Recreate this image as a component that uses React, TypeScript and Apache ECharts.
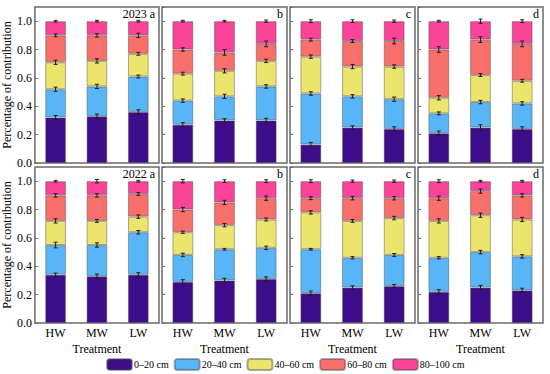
import React, { useEffect, useRef } from "react";
import * as echarts from "echarts";

const treatments = ["HW", "MW", "LW"];
const depthLayers = ["0–20 cm", "20–40 cm", "40–60 cm", "60–80 cm", "80–100 cm"];
const layerColors = ["#3d0d8c", "#58b5f7", "#ebe46d", "#f96f6c", "#fa4399"];
const years = ["2023", "2022"];
const panelLetters = ["a", "b", "c", "d"];
const yTickValues = [0, 0.2, 0.4, 0.6, 0.8, 1.0];

// share of each depth layer (rows: 0–20 … 80–100 cm; columns: HW, MW, LW)
const share2023a = [[0.32, 0.33, 0.36], [0.20, 0.21, 0.25], [0.19, 0.18, 0.16], [0.19, 0.18, 0.13], [0.10, 0.10, 0.10]];
const share2023b = [[0.27, 0.30, 0.30], [0.17, 0.17, 0.24], [0.19, 0.18, 0.18], [0.17, 0.13, 0.12], [0.20, 0.22, 0.16]];
const share2023c = [[0.13, 0.25, 0.24], [0.36, 0.22, 0.21], [0.26, 0.21, 0.23], [0.12, 0.18, 0.18], [0.13, 0.14, 0.14]];
const share2023d = [[0.21, 0.25, 0.24], [0.14, 0.18, 0.18], [0.11, 0.19, 0.16], [0.34, 0.25, 0.26], [0.20, 0.13, 0.16]];
const share2022a = [[0.34, 0.33, 0.34], [0.21, 0.22, 0.30], [0.17, 0.17, 0.11], [0.18, 0.18, 0.16], [0.10, 0.10, 0.09]];
const share2022b = [[0.29, 0.30, 0.31], [0.19, 0.22, 0.22], [0.16, 0.17, 0.20], [0.16, 0.16, 0.15], [0.20, 0.15, 0.12]];
const share2022c = [[0.21, 0.25, 0.26], [0.31, 0.21, 0.22], [0.26, 0.26, 0.26], [0.10, 0.16, 0.14], [0.12, 0.12, 0.12]];
const share2022d = [[0.22, 0.25, 0.23], [0.24, 0.25, 0.24], [0.26, 0.26, 0.26], [0.16, 0.17, 0.17], [0.12, 0.07, 0.10]];

// error (±) at the top of each layer
const err2023a = [[0.015, 0.015, 0.015], [0.015, 0.015, 0.01], [0.015, 0.015, 0.01], [0.01, 0.012, 0.015], [0.006, 0.006, 0.006]];
const err2023b = [[0.015, 0.012, 0.015], [0.012, 0.015, 0.012], [0.01, 0.015, 0.012], [0.012, 0.02, 0.02], [0.006, 0.006, 0.008]];
const err2023c = [[0.015, 0.012, 0.015], [0.012, 0.012, 0.015], [0.012, 0.015, 0.012], [0.01, 0.01, 0.02], [0.01, 0.01, 0.008]];
const err2023d = [[0.015, 0.02, 0.015], [0.01, 0.012, 0.012], [0.015, 0.01, 0.01], [0.02, 0.02, 0.02], [0.006, 0.015, 0.01]];
const err2022a = [[0.012, 0.015, 0.015], [0.02, 0.015, 0.012], [0.015, 0.01, 0.012], [0.012, 0.012, 0.01], [0.006, 0.012, 0.006]];
const err2022b = [[0.015, 0.015, 0.015], [0.012, 0.006, 0.012], [0.008, 0.012, 0.01], [0.015, 0.015, 0.015], [0.012, 0.01, 0.01]];
const err2022c = [[0.015, 0.012, 0.012], [0.006, 0.008, 0.01], [0.012, 0.01, 0.012], [0.01, 0.012, 0.012], [0.01, 0.008, 0.008]];
const err2022d = [[0.015, 0.015, 0.015], [0.008, 0.012, 0.012], [0.015, 0.015, 0.015], [0.015, 0.015, 0.012], [0.01, 0.006, 0.006]];

const panelShares = [share2023a, share2023b, share2023c, share2023d, share2022a, share2022b, share2022c, share2022d];
const panelErrors = [err2023a, err2023b, err2023c, err2023d, err2022a, err2022b, err2022c, err2022d];

const FONT = "'Liberation Serif', 'Times New Roman', serif";
const BORDER = "#6a6a6a";

export default function App() {
  const ref = useRef<HTMLDivElement>(null);

  useEffect(() => {
    if (!ref.current) return;
    const chart = echarts.init(ref.current, undefined, { renderer: "svg" });

    const colLefts = [34, 162, 290, 418];
    const panelW = 125;
    const rowTops = [7, 167];
    const panelH = 156;

    const grids: any[] = [];
    const xAxes: any[] = [];
    const yAxes: any[] = [];
    const series: any[] = [];
    const graphics: any[] = [];

    for (let p = 0; p < 8; p++) {
      const row = Math.floor(p / 4);
      const col = p % 4;
      grids.push({
        left: colLefts[col],
        top: rowTops[row],
        width: panelW,
        height: panelH,
        show: true,
        borderColor: BORDER,
        borderWidth: 1.5,
        backgroundColor: "transparent",
      });
      xAxes.push({
        type: "category",
        gridIndex: p,
        data: treatments,
        axisLine: { show: false },
        axisTick: { show: false },
        axisLabel: { show: row === 1, fontSize: 12, color: "#000", fontFamily: FONT, margin: 4 },
        name: row === 1 ? "Treatment" : "",
        nameLocation: "middle",
        nameGap: 20,
        nameTextStyle: { fontSize: 12, color: "#000", fontFamily: FONT },
      });
      yAxes.push({
        type: "value",
        gridIndex: p,
        min: 0,
        max: 1.1,
        interval: 0.2,
        splitLine: { show: false },
        axisLine: { show: false },
        axisTick: { show: true, inside: true, length: 3, lineStyle: { color: BORDER, width: 1 } },
        axisLabel: {
          show: col === 0,
          showMaxLabel: false,
          fontSize: 12,
          color: "#000",
          fontFamily: FONT,
          margin: 3,
          formatter: (v: number) => (yTickValues.some((t) => Math.abs(t - v) < 1e-6) ? v.toFixed(1) : ""),
        },
        name: col === 0 ? "Percentage of contribution" : "",
        nameLocation: "middle",
        nameGap: 17,
        nameTextStyle: { fontSize: 12, color: "#000", fontFamily: FONT },
      });

      const shares = panelShares[p];
      const errs = panelErrors[p];
      const cumulative = [0, 0, 0];
      const errData: number[][] = [];
      shares.forEach((layer, l) => {
        series.push({
          type: "bar",
          name: depthLayers[l],
          xAxisIndex: p,
          yAxisIndex: p,
          stack: "panel" + p,
          barWidth: "50%",
          data: layer,
          itemStyle: { color: layerColors[l], borderColor: "rgba(70,70,70,0.45)", borderWidth: 1 },
          emphasis: { disabled: true },
        });
        layer.forEach((v, t) => {
          cumulative[t] += v;
          errData.push([t, cumulative[t], errs[l][t]]);
        });
      });
      series.push({
        type: "custom",
        name: "err" + p,
        xAxisIndex: p,
        yAxisIndex: p,
        z: 10,
        data: errData,
        renderItem: (params: any, api: any) => {
          const x = api.value(0);
          const y = api.value(1);
          const e = api.value(2);
          const hi = api.coord([x, y + e]);
          const lo = api.coord([x, y - e]);
          const cap = 2;
          const st = { stroke: "#2a1a1a", lineWidth: 1 };
          return {
            type: "group",
            children: [
              { type: "line", shape: { x1: hi[0], y1: hi[1], x2: lo[0], y2: lo[1] }, style: st },
              { type: "line", shape: { x1: hi[0] - cap, y1: hi[1], x2: hi[0] + cap, y2: hi[1] }, style: st },
              { type: "line", shape: { x1: lo[0] - cap, y1: lo[1], x2: lo[0] + cap, y2: lo[1] }, style: st },
            ],
          };
        },
      });

      graphics.push({
        type: "text",
        right: 550 - (colLefts[col] + panelW) + 4,
        top: rowTops[row] + 1,
        style: {
          text: col === 0 ? years[row] + " " + panelLetters[col] : panelLetters[col],
          font: "12px " + FONT,
          fill: "#000",
        },
      });
    }

    chart.setOption({
      animation: false,
      backgroundColor: "#fff",
      grid: grids,
      xAxis: xAxes,
      yAxis: yAxes,
      series,
      graphic: graphics,
      legend: {
        data: depthLayers,
        top: 358,
        left: 106,
        itemWidth: 25,
        itemHeight: 11,
        itemGap: 5,
        padding: 0,
        selectedMode: false,
        textStyle: { fontSize: 10, color: "#000", fontFamily: FONT, padding: [0, 0, 0, -3] },
      },
    });

    return () => chart.dispose();
  }, []);

  return (
    <div
      ref={ref}
      style={{ position: "fixed", left: 0, top: 0, width: 550, height: 374, background: "#fff" }}
    />
  );
}
